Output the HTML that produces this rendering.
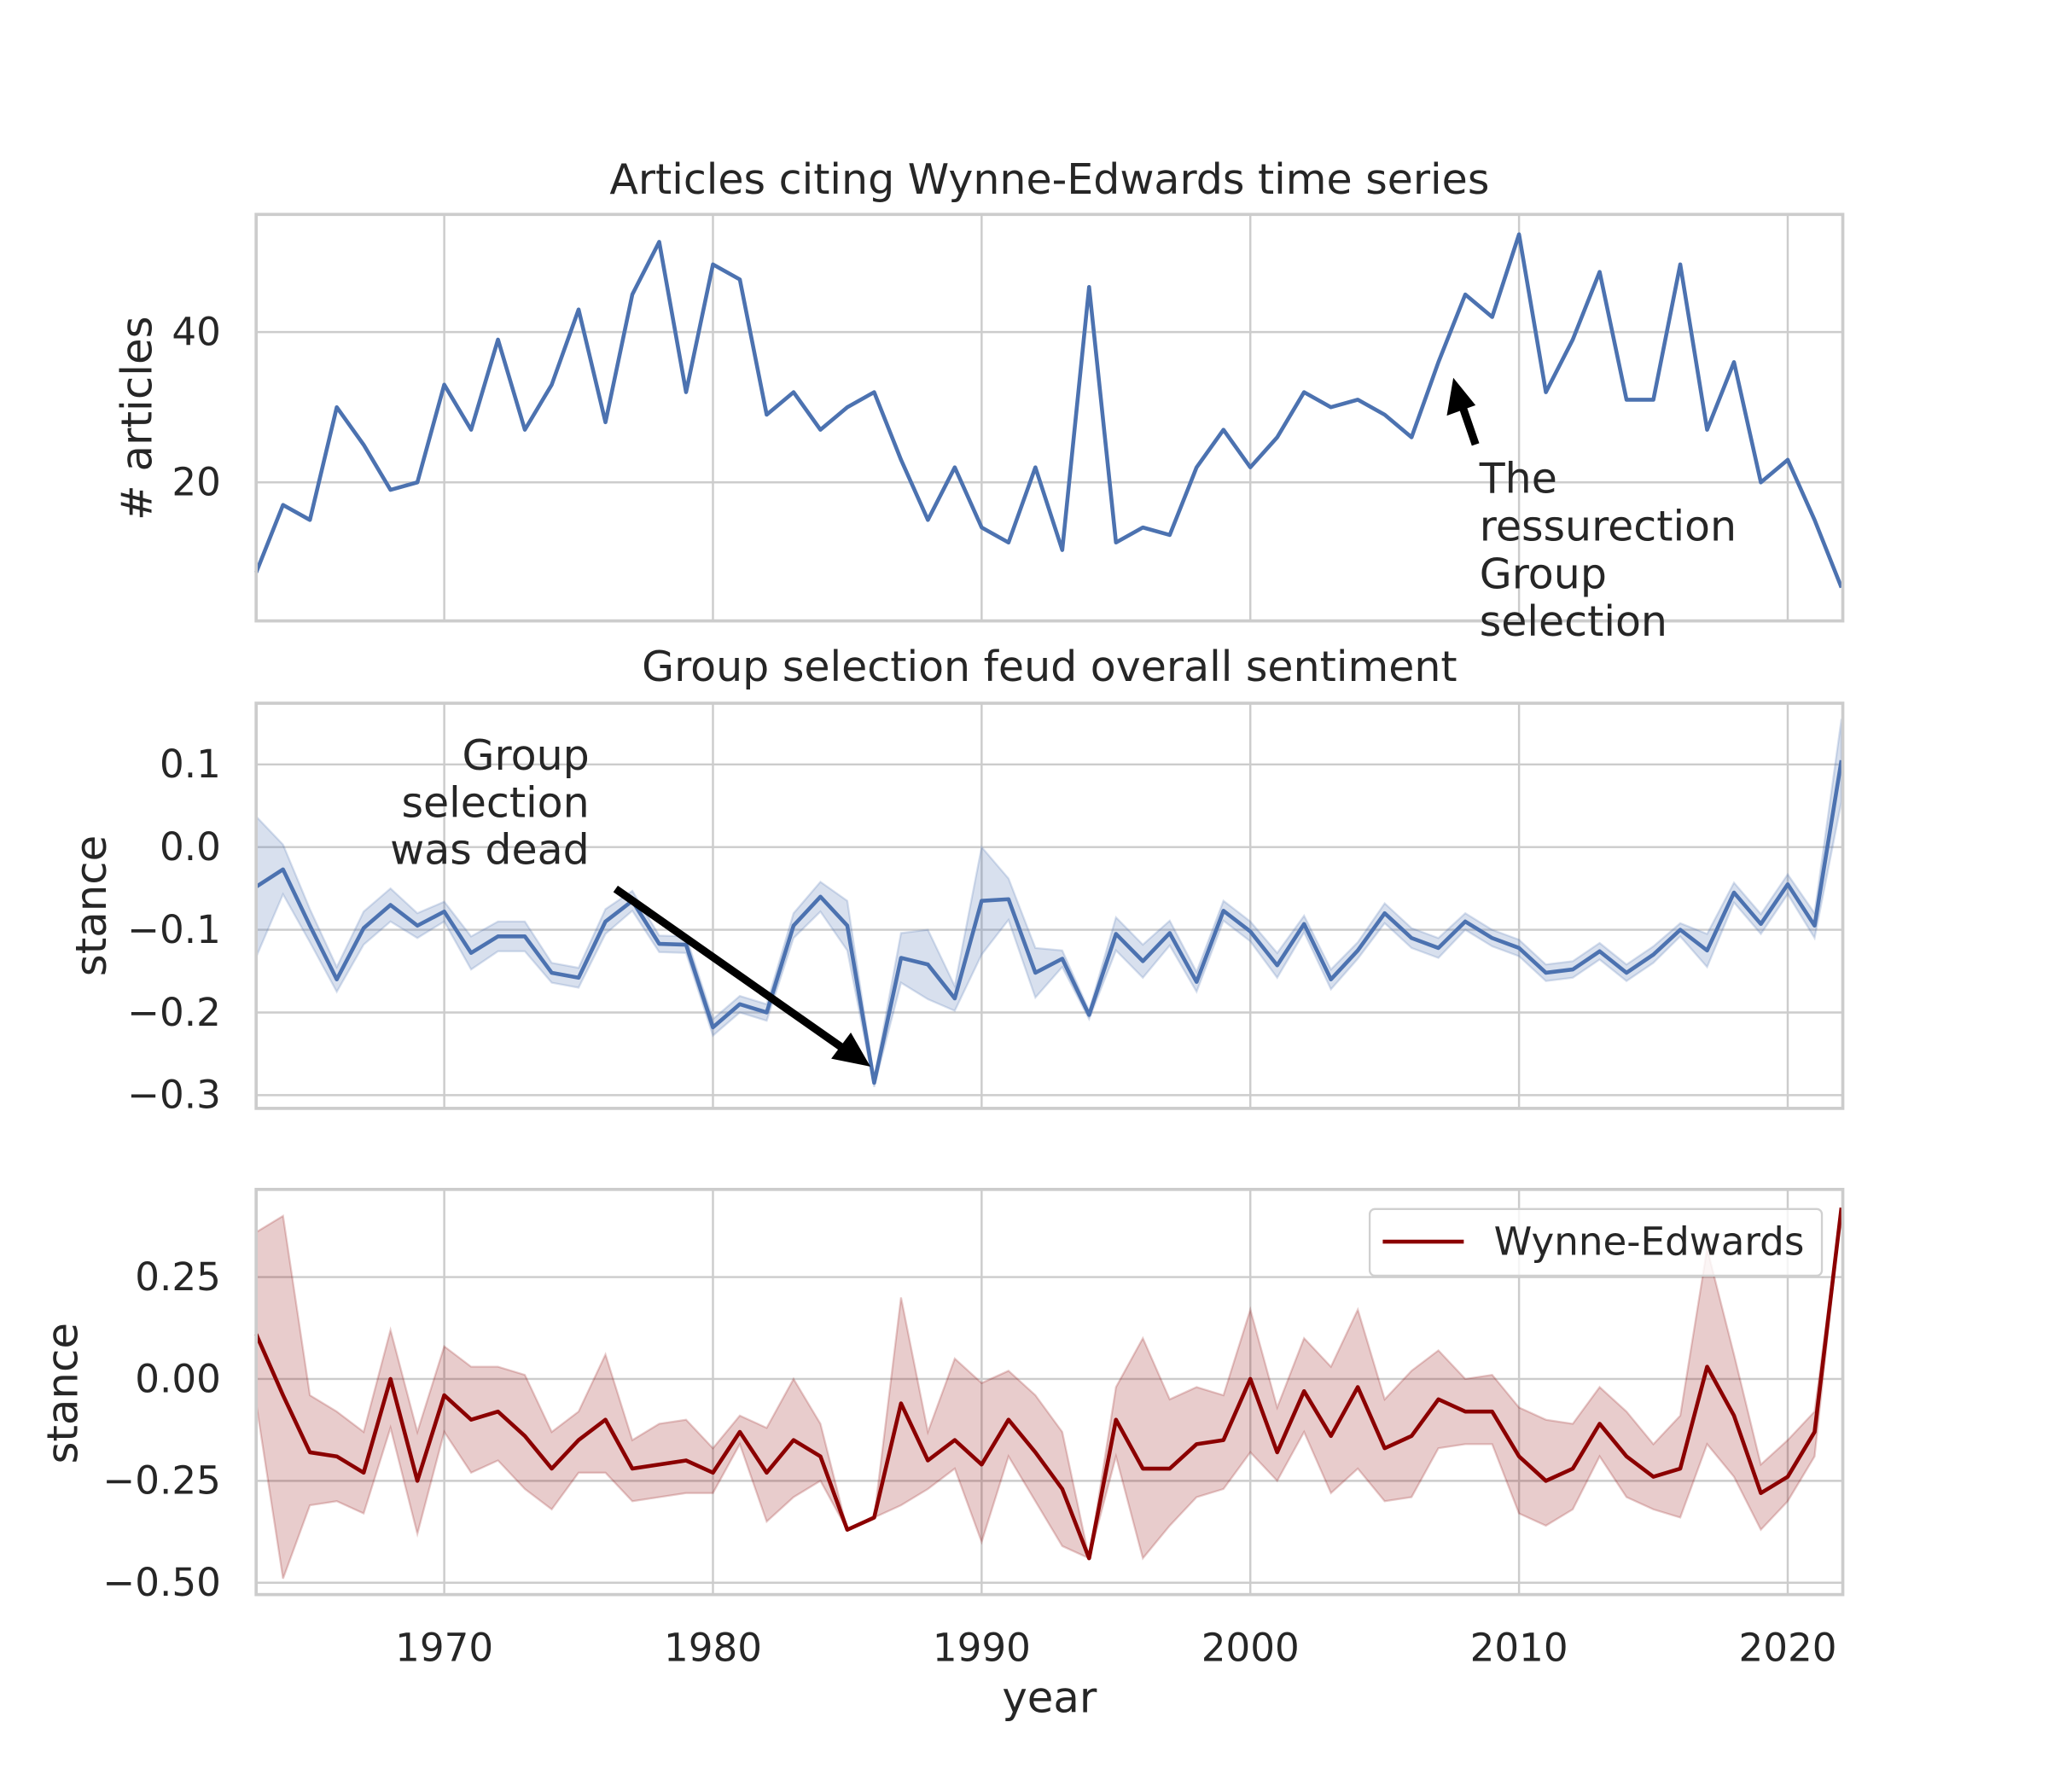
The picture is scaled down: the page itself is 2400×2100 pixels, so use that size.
<!DOCTYPE html>
<html><head><meta charset="utf-8"><style>
html,body{margin:0;padding:0;background:#fff}
svg{display:block;font-family:"DejaVu Sans","Liberation Sans",sans-serif}
</style></head><body>
<svg id="chart" width="2400" height="2100" viewBox="0 0 1567 1371" xmlns="http://www.w3.org/2000/svg"></svg>
<script>
const years = [];
for (let y = 1963; y <= 2022; y++) years.push(y);
const articles = [8,17,15,30,25,19,20,33,27,39,27,33,43,28,45,52,32,49,47,29,32,27,30,32,23,15,22,14,12,22,11,46,12,14,13,22,27,22,26,32,30,31,29,26,36,45,42,53,32,39,48,31,31,49,27,36,20,23,15,6];
const overallMean = [-0.048,-0.027,-0.095,-0.16,-0.098,-0.07,-0.095,-0.078,-0.128,-0.108,-0.108,-0.152,-0.158,-0.09,-0.065,-0.117,-0.118,-0.218,-0.19,-0.2,-0.095,-0.06,-0.095,-0.285,-0.134,-0.142,-0.183,-0.065,-0.063,-0.152,-0.135,-0.203,-0.105,-0.138,-0.104,-0.163,-0.077,-0.102,-0.143,-0.093,-0.16,-0.125,-0.08,-0.11,-0.122,-0.09,-0.11,-0.122,-0.152,-0.148,-0.126,-0.152,-0.13,-0.1,-0.125,-0.055,-0.093,-0.045,-0.095,0.105];
const overallErr = [0.085,0.03,0.02,0.015,0.02,0.02,0.015,0.012,0.02,0.018,0.018,0.012,0.012,0.015,0.012,0.01,0.01,0.01,0.01,0.01,0.015,0.018,0.03,0.005,0.03,0.042,0.015,0.065,0.025,0.03,0.01,0.005,0.02,0.02,0.015,0.012,0.012,0.012,0.015,0.01,0.012,0.01,0.012,0.012,0.012,0.01,0.01,0.01,0.01,0.01,0.01,0.01,0.01,0.008,0.02,0.012,0.012,0.012,0.015,0.05];
const weMean = [0.11,-0.04,-0.18,-0.19,-0.23,0.0,-0.25,-0.04,-0.1,-0.08,-0.14,-0.22,-0.15,-0.1,-0.22,-0.21,-0.2,-0.23,-0.13,-0.23,-0.15,-0.19,-0.37,-0.34,-0.06,-0.2,-0.15,-0.21,-0.1,-0.18,-0.27,-0.44,-0.1,-0.22,-0.22,-0.16,-0.15,0.0,-0.18,-0.03,-0.14,-0.02,-0.17,-0.14,-0.05,-0.08,-0.08,-0.19,-0.25,-0.22,-0.11,-0.19,-0.24,-0.22,0.03,-0.09,-0.28,-0.24,-0.13,0.42];
const weHi = [0.36,0.4,-0.04,-0.08,-0.13,0.12,-0.13,0.08,0.03,0.03,0.01,-0.13,-0.08,0.06,-0.15,-0.11,-0.1,-0.17,-0.09,-0.12,0.0,-0.11,-0.37,-0.34,0.2,-0.13,0.05,-0.01,0.02,-0.04,-0.13,-0.44,-0.02,0.1,-0.05,-0.02,-0.04,0.17,-0.07,0.1,0.03,0.17,-0.05,0.02,0.07,0.0,0.01,-0.07,-0.1,-0.11,-0.02,-0.08,-0.16,-0.09,0.32,0.06,-0.21,-0.15,-0.08,0.42];
const weLo = [-0.06,-0.49,-0.31,-0.3,-0.33,-0.12,-0.38,-0.13,-0.23,-0.2,-0.27,-0.32,-0.23,-0.23,-0.3,-0.29,-0.28,-0.28,-0.16,-0.35,-0.29,-0.25,-0.37,-0.34,-0.31,-0.27,-0.22,-0.4,-0.19,-0.3,-0.41,-0.44,-0.19,-0.44,-0.36,-0.29,-0.27,-0.18,-0.25,-0.13,-0.28,-0.22,-0.3,-0.29,-0.17,-0.16,-0.16,-0.33,-0.36,-0.32,-0.19,-0.29,-0.32,-0.34,-0.16,-0.24,-0.37,-0.3,-0.19,0.42];
const xTicks = [1970,1980,1990,2000,2010,2020];
const p1Ticks = [20,40];
const p2Ticks = [0.1,0.0,-0.1,-0.2,-0.3];
const p3Ticks = [0.25,0.0,-0.25,-0.5];

const svg = document.getElementById('chart');
const NS = 'http://www.w3.org/2000/svg';
function mk(tag, attrs, parent){const e=document.createElementNS(NS,tag);for(const k in attrs)e.setAttribute(k,attrs[k]);(parent||svg).appendChild(e);return e;}
const X0=196,X1=1410,YR0=1963,YR1=2022.05;
const xs = v => X0+(v-YR0)/(YR1-YR0)*(X1-X0);
function yScale(top,bot,vmax,vmin){return v=>top+(vmax-v)/(vmax-vmin)*(bot-top);}
const panels=[
 {name:'articles-panel',top:164,bot:475,ys:yScale(164,475,55.65,1.57),ticks:p1Ticks,fmt:v=>String(v)},
 {name:'overall-sentiment-panel',top:538,bot:848,ys:yScale(538,848,0.174,-0.316),ticks:p2Ticks,fmt:v=>(v<0?'\u2212':'')+Math.abs(v).toFixed(1)},
 {name:'wynne-edwards-panel',top:910,bot:1220,ys:yScale(910,1220,0.465,-0.529),ticks:p3Ticks,fmt:v=>(v<0?'\u2212':'')+Math.abs(v).toFixed(2)}
];
panels.forEach((p,i)=>{
 const g=mk('g',{});
 
 
 xTicks.forEach(t=>{const l=mk('line',{x1:xs(t),x2:xs(t),y1:p.top,y2:p.bot,stroke:'#cccccc','stroke-width':1.6},g);
  });
 p.ticks.forEach(t=>{const y=p.ys(t);
  const l=mk('line',{x1:X0,x2:X1,y1:y,y2:y,stroke:'#cccccc','stroke-width':1.6},g);
  
  const tx=mk('text',{x:X0-27,y:y+10,'text-anchor':'end','font-size':29.5,fill:'#262626'},g);tx.textContent=p.fmt(t);
  });
 p.g=g;
});
function line(vals,ys,color,w,parent,name){let d='';vals.forEach((v,i)=>{d+=(i?'L':'M')+xs(years[i]).toFixed(2)+','+ys(v).toFixed(2);});
 const e=mk('path',{d,fill:'none',stroke:color,'stroke-width':w,'stroke-linejoin':'round'},parent);
 return e;}
function band(lo,hi,ys,color,op,parent,name){let d='';hi.forEach((v,i)=>{d+=(i?'L':'M')+xs(years[i]).toFixed(2)+','+ys(v).toFixed(2);});
 for(let i=lo.length-1;i>=0;i--)d+='L'+xs(years[i]).toFixed(2)+','+ys(lo[i]).toFixed(2);d+='Z';
 const e=mk('path',{d,fill:color,'fill-opacity':op,stroke:color,'stroke-opacity':op,'stroke-width':1.5},parent);
 }
line(articles,panels[0].ys,'#4c72b0',3,panels[0].g,'articles-line');
band(overallMean.map((m,i)=>m-overallErr[i]),overallMean.map((m,i)=>m+overallErr[i]),panels[1].ys,'#4c72b0',0.22,panels[1].g,'overall-ci-band');
line(overallMean,panels[1].ys,'#4c72b0',3,panels[1].g,'overall-stance-line');
band(weLo,weHi,panels[2].ys,'#8b0000',0.2,panels[2].g,'wynne-edwards-ci-band');
line(weMean,panels[2].ys,'#8b0000',3,panels[2].g,'wynne-edwards-line');
panels.forEach(p=>{const r=mk('rect',{x:X0,y:p.top,width:X1-X0,height:p.bot-p.top,fill:'none',stroke:'#cccccc','stroke-width':2.4},p.g);
 });
xTicks.forEach(t=>{const tx=mk('text',{x:xs(t),y:1271,'text-anchor':'middle','font-size':29.5,fill:'#262626'});tx.textContent=t;
 });
</script>
<script>
(function(){
const svg=document.getElementById('chart');const NS='http://www.w3.org/2000/svg';
function t(x,y,s,size,anchor,name,rot){const e=document.createElementNS(NS,'text');e.setAttribute('x',x);e.setAttribute('y',y);e.setAttribute('font-size',size);e.setAttribute('fill','#262626');e.setAttribute('text-anchor',anchor);if(rot)e.setAttribute('transform','rotate(-90 '+x+' '+y+')');e.textContent=s;


svg.appendChild(e);}
t(803,148,'Articles citing Wynne-Edwards time series',32,'middle','title-articles');
t(803,521,'Group selection feud overall sentiment',32,'middle','title-sentiment');
t(116,320,'# articles',32.5,'middle','y-axis-title-articles',true);
t(81,693,'stance',32.5,'middle','y-axis-title-stance',true);
t(59,1066,'stance',32.5,'middle','y-axis-title-stance-we',true);
t(803,1310,'year',32.5,'middle','x-axis-title');
['The','ressurection','Group','selection'].forEach((s,i)=>t(1132,377+i*36.5,s,32,'start','annotation-resurrection'));
['Group','selection','was dead'].forEach((s,i)=>t(451,589+i*36,s,32,'end','annotation-dead'));
svg.insertAdjacentHTML('beforeend',
'<g><line x1="1129" y1="340" x2="1118" y2="308" stroke="#000" stroke-width="6"/><polygon points="1112,289 1107,318 1129,310" fill="#000"/></g>'+
'<g><line x1="471" y1="680" x2="645" y2="802" stroke="#000" stroke-width="6"/><polygon points="666,816 636,810 651,790" fill="#000"/></g>'+
'<g><rect x="1048" y="925" width="346" height="51" rx="4" fill="#fff" fill-opacity="0.8" stroke="#d0d0d0" stroke-width="1.5"/><line x1="1058" y1="950" x2="1120" y2="950" stroke="#8b0000" stroke-width="3"/><text x="1143" y="960" font-size="29.5" fill="#262626">Wynne-Edwards</text></g>');
})();
</script>
</body></html>
